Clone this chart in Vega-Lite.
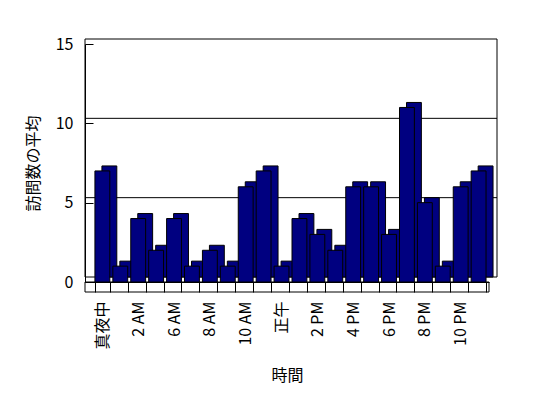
{
  "$schema": "https://vega.github.io/schema/vega-lite/v6.json",
  "width": 404,
  "height": 238,
  "autosize": "none",
  "padding": {"left": 85, "top": 44, "right": 59, "bottom": 116},
  "background": "white",
  "config": {
    "view": {"stroke": null},
    "font": "Noto Sans CJK JP",
    "axis": {"labelFont": "Noto Sans CJK JP", "titleFont": "Noto Sans CJK JP", "labelColor": "black", "titleColor": "black", "domainColor": "black", "tickColor": "black", "titleFontWeight": "normal"}
  },
  "datasets": {
    "visits": [
      {"h": "真夜中", "v": 7}, {"h": "1 AM", "v": 1}, {"h": "2 AM", "v": 4}, {"h": "3 AM", "v": 2},
      {"h": "6 AM", "v": 4}, {"h": "7 AM", "v": 1}, {"h": "8 AM", "v": 2}, {"h": "9 AM", "v": 1},
      {"h": "10 AM", "v": 6}, {"h": "11 AM", "v": 7}, {"h": "正午", "v": 1}, {"h": "1 PM", "v": 4},
      {"h": "2 PM", "v": 3}, {"h": "3 PM", "v": 2}, {"h": "4 PM", "v": 6}, {"h": "5 PM", "v": 6},
      {"h": "6 PM", "v": 3}, {"h": "7 PM", "v": 11}, {"h": "8 PM", "v": 5}, {"h": "9 PM", "v": 1},
      {"h": "10 PM", "v": 6}, {"h": "11 PM", "v": 7}
    ],
    "grid": [{"v": 5}, {"v": 10}]
  },
  "layer": [
    {
      "data": {"values": [{"v": 0, "v2": 15}]},
      "mark": {"type": "rect", "fill": "white", "stroke": "black", "strokeWidth": 1, "xOffset": 8, "x2Offset": 8, "yOffset": -5, "y2Offset": -5},
      "encoding": {
        "y": {"field": "v", "type": "quantitative"},
        "y2": {"field": "v2"}
      }
    },
    {
      "data": {"name": "grid"},
      "mark": {"type": "rule", "color": "black", "strokeWidth": 1, "xOffset": 8, "x2Offset": 8, "yOffset": -5, "y2Offset": -5},
      "encoding": {
        "y": {"field": "v", "type": "quantitative"}
      }
    },
    {
      "data": {"values": [{"v": 0}]},
      "mark": {"type": "rect", "fill": "white", "stroke": "black", "strokeWidth": 1, "y2Offset": 10},
      "encoding": {
        "y": {"field": "v", "type": "quantitative"},
        "y2": {"field": "v"}
      }
    },
    {
      "data": {"name": "visits"},
      "mark": {"type": "bar", "fill": "#000080", "stroke": "black", "strokeWidth": 1, "xOffset": 7, "x2Offset": 7, "yOffset": -5, "y2Offset": -5},
      "encoding": {
        "x": {"field": "h", "type": "nominal", "sort": null},
        "y": {"field": "v", "type": "quantitative"}
      }
    },
    {
      "data": {"name": "visits"},
      "mark": {"type": "bar", "fill": "#000080", "stroke": "black", "strokeWidth": 1},
      "encoding": {
        "x": {
          "field": "h", "type": "nominal", "sort": null,
          "scale": {"paddingInner": 0.17, "paddingOuter": 0.36, "align": 0.77},
          "axis": {
            "title": "時間", "titleFontSize": 16, "titlePadding": 18,
            "labelAngle": -90, "labelFontSize": 16, "labelPadding": 9, "labelOverlap": false,
            "labelExpr": "indexof(['真夜中','2 AM','6 AM','8 AM','10 AM','正午','2 PM','4 PM','6 PM','8 PM','10 PM'], datum.value) >= 0 ? datum.label : ''",
            "tickBand": "extent", "tickSize": 10, "domain": true, "zindex": 1
          }
        },
        "y": {
          "field": "v", "type": "quantitative",
          "scale": {"domain": [0, 15], "nice": false},
          "axis": {
            "title": "訪問数の平均", "titleFontSize": 16, "titlePadding": 14,
            "values": [0, 5, 10, 15], "labelFontSize": 16, "labelPadding": 20,
            "tickSize": -8, "grid": false, "domain": true, "zindex": 1
          }
        }
      }
    }
  ]
}
